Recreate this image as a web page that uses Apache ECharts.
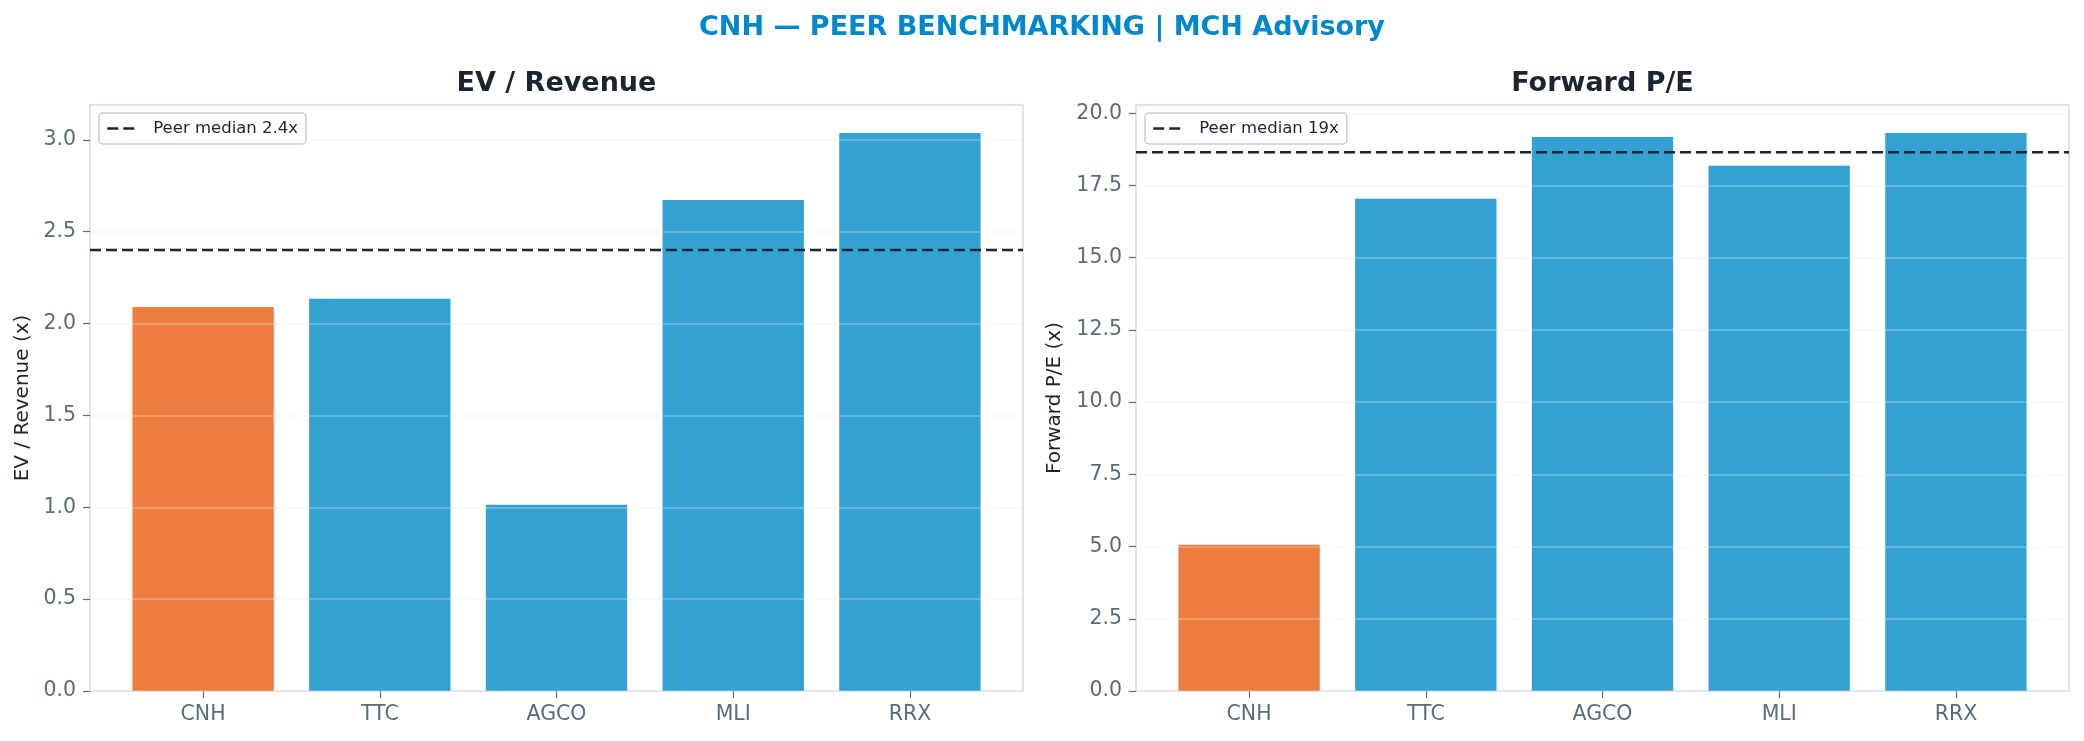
<!DOCTYPE html>
<html><head><meta charset="utf-8">
<script src="https://cdn.jsdelivr.net/npm/echarts@6/dist/echarts.min.js"></script>
<style>html,body{margin:0;padding:0;background:#fff}#c{width:2084px;height:741px}</style>
</head><body><div id="c"></div>
<script>
const categories = ['CNH', 'TTC', 'AGCO', 'MLI', 'RRX'];
const evRevenue = [2.09, 2.135, 1.014, 2.673, 3.038];
const forwardPE = [5.06, 17.04, 19.18, 18.18, 19.32];
const evMedian = 2.40;
const peMedian = 18.65;
const evTicks = [0, 0.5, 1.0, 1.5, 2.0, 2.5, 3.0];
const peTicks = [0, 2.5, 5.0, 7.5, 10.0, 12.5, 15.0, 17.5, 20.0];
const highlight = 'CNH';

const FONT = 'DejaVu Sans';
const ORANGE = '#ED7D3E', BLUE = '#33A2D3';
const DARK = '#1a2533', SLATE = '#5b6b7e', FRAME = '#d3dbe6';

const evMax = Math.max(...evRevenue) * 1.05;
const peMax = Math.max(...forwardPE) * 1.05;

function barData(vals) {
  return vals.map((v, i) => ({ value: v, itemStyle: { color: categories[i] === highlight ? ORANGE : BLUE } }));
}

const panels = [
  { left: 90, max: evMax, ticks: evTicks, interval: 0.5, name: 'EV / Revenue (x)', nameGap: 57, vals: evRevenue,
    median: evMedian, medLabel: 'Peer median ' + evMedian.toFixed(1) + 'x', title: 'EV / Revenue' },
  { left: 1136, max: peMax, ticks: peTicks, interval: 2.5, name: 'Forward P/E (x)', nameGap: 71, vals: forwardPE,
    median: peMedian, medLabel: 'Peer median ' + peMedian.toFixed(0) + 'x', title: 'Forward P/E' }
];

const W = 933, TOP = 105, H = 586;
const grid = [], xAxis = [], yAxis = [], series = [], legend = [], graphic = [];
panels.forEach((p, k) => {
  const outer = k * 2, inner = k * 2 + 1;
  const band = W / 5.28;
  grid.push({ left: p.left, top: TOP, width: W, height: H, show: true, borderColor: FRAME, borderWidth: 1.5, backgroundColor: 'transparent' });
  grid.push({ left: p.left + 0.14 * band, top: TOP, width: 5 * band, height: H });
  xAxis.push({ gridIndex: outer, type: 'value', min: 0, max: 1, show: false });
  xAxis.push({ gridIndex: inner, type: 'category', data: categories,
    axisLine: { show: false },
    axisTick: { show: true, alignWithLabel: true, length: 7, lineStyle: { color: SLATE, width: 1.2 } },
    axisLabel: { color: SLATE, fontFamily: FONT, fontSize: 20.5, margin: 13 } });
  yAxis.push({ gridIndex: outer, type: 'value', min: 0, max: p.max, interval: p.interval, z: 3,
    name: p.name, nameLocation: 'middle', nameRotate: 90, nameGap: p.nameGap,
    nameTextStyle: { color: DARK, fontFamily: FONT, fontSize: 20 },
    axisLine: { show: false },
    axisTick: { show: true, length: 7, customValues: p.ticks, lineStyle: { color: SLATE, width: 1.2 } },
    axisLabel: { color: SLATE, fontFamily: FONT, fontSize: 20.5, margin: 14, customValues: p.ticks,
      formatter: v => v.toFixed(1) },
    splitLine: { show: true, lineStyle: { color: 'rgba(232,236,242,0.35)', width: 1.5 } } });
  yAxis.push({ gridIndex: inner, type: 'value', min: 0, max: p.max, show: false, splitLine: { show: false } });
  series.push({ type: 'bar', xAxisIndex: inner, yAxisIndex: inner, data: barData(p.vals), barWidth: '80%', z: 2 });
  series.push({ type: 'line', name: p.medLabel, xAxisIndex: outer, yAxisIndex: outer, z: 5,
    data: [[0, p.median], [1, p.median]], symbol: 'none', silent: true,
    itemStyle: { color: DARK },
    lineStyle: { color: DARK, width: 2.5, type: [11, 5] } });
  legend.push({ data: [p.medLabel], left: p.left + 9, top: TOP + 8, orient: 'vertical',
    itemWidth: 28, itemHeight: 14, padding: [7, 8, 7, 7],
    itemStyle: { opacity: 0 },
    lineStyle: { color: DARK, width: 2.5, type: [11, 5] },
    backgroundColor: 'rgba(255,255,255,0.85)', borderColor: '#cccccc', borderWidth: 1.5, borderRadius: 4,
    textStyle: { color: DARK, fontFamily: FONT, fontSize: 16.5, padding: [0, 0, 0, 13] } });
  graphic.push({ type: 'text', x: p.left + W / 2, y: 84,
    style: { text: p.title, fill: DARK, font: 'bold 27px "DejaVu Sans"', textAlign: 'center', textVerticalAlign: 'middle', align: 'center', verticalAlign: 'middle' } });
});

const chart = echarts.init(document.getElementById('c'), null, { renderer: 'canvas' });
chart.setOption({
  animation: false,
  backgroundColor: '#ffffff',
  title: { text: 'CNH — PEER BENCHMARKING | MCH Advisory', left: 'center', top: 9,
    textStyle: { color: '#0088CC', fontFamily: FONT, fontWeight: 'bold', fontSize: 27 } },
  grid, xAxis, yAxis, series, legend, graphic
});
</script></body></html>
